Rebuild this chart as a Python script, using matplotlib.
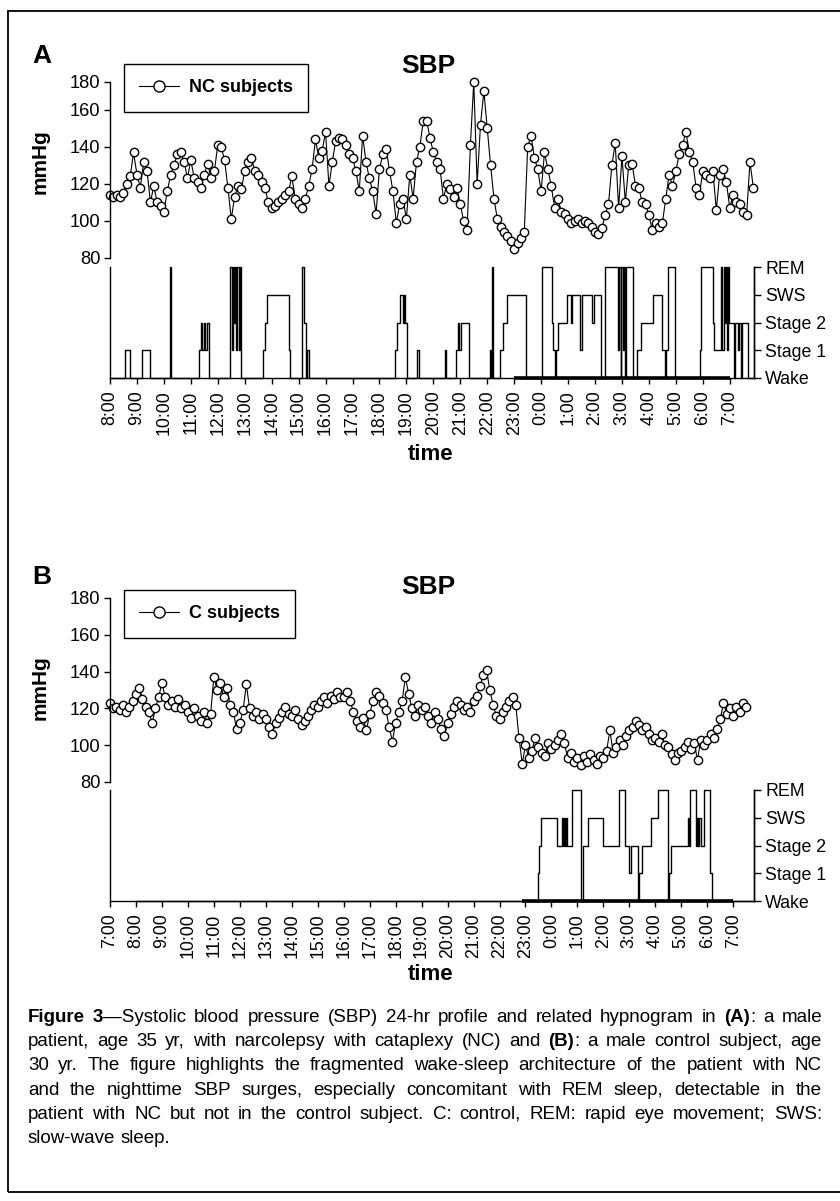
import numpy as np
import matplotlib
matplotlib.use('Agg')
import matplotlib.pyplot as plt
from matplotlib.patches import Rectangle

plt.rcParams['font.family'] = ['Liberation Sans', 'DejaVu Sans']

# SBP readings, one every 7.5 min (hours > 24 are the next day)
SAMPLE_H = 7.5 / 60

# ---- panel A : NC patient, recording from 8:00 ----
nc_start = 8.0
nc_sbp = [
    114, 113, 114, 113, 115, 120, 124, 137,   # 8:00
    125, 118, 132, 127, 110, 119, 110, 108,   # 9:00
    105, 116, 125, 130, 136, 137, 132, 123,   # 10:00
    133, 123, 121, 118, 125, 131, 123, 127,   # 11:00
    141, 140, 133, 118, 101, 113, 119, 117,   # 12:00
    127, 132, 134, 127, 125, 121, 118, 110,   # 13:00
    107, 108, 110, 112, 114, 116, 124, 112,   # 14:00
    109, 107, 112, 119, 128, 144, 134, 138,   # 15:00
    148, 119, 132, 143, 145, 144, 141, 136,   # 16:00
    134, 127, 116, 146, 132, 123, 116, 104,   # 17:00
    128, 136, 139, 127, 116, 99, 109, 112,    # 18:00
    101, 125, 112, 132, 140, 154, 154, 145,   # 19:00
    137, 132, 128, 112, 120, 117, 113, 118,   # 20:00
    109, 100, 95, 141, 175, 120, 152, 170,    # 21:00
    150, 130, 112, 101, 97, 94, 92, 89,       # 22:00
    85, 88, 91, 94, 140, 146, 134, 128,       # 23:00
    116, 137, 128, 119, 107, 112, 105, 104,   # 0:00
    101, 99, 100, 101, 99, 100, 99, 97,       # 1:00
    94, 93, 96, 103, 109, 130, 142, 107,      # 2:00
    135, 110, 130, 131, 119, 118, 110, 109,   # 3:00
    103, 95, 99, 97, 99, 112, 125, 119,       # 4:00
    127, 136, 141, 148, 137, 132, 118, 114,   # 5:00
    127, 125, 123, 127, 106, 125, 128, 121,   # 6:00
    107, 114, 110, 109, 105, 103, 132, 118,   # 7:00
]
# hypnogram A: change times and stage (0 Wake, 1 Stage 1, 2 Stage 2, 3 SWS, 4 REM)
nc_hyp_t = [8.0, 8.57, 8.74, 9.17, 9.48, 10.22, 10.24, 10.28,
            11.31, 11.36, 11.42, 11.47, 11.54, 11.6, 11.68,
            12.45, 12.47, 12.52, 12.55, 12.6, 12.63, 12.68, 12.72, 12.78, 12.82, 12.88,
            13.69, 13.75, 13.81, 14.64, 14.66, 14.68,
            15.13, 15.2, 15.26, 15.32, 15.4,
            18.58, 18.64, 18.76, 18.86, 18.92, 18.96, 19.03, 19.4, 19.45,
            20.42, 20.46, 20.84, 20.9, 20.97, 21.02, 21.34,
            22.1, 22.14, 22.18, 22.22, 22.47, 22.57, 22.74, 23.44,
            24.02, 24.4, 24.45, 24.52, 24.55, 24.64, 24.95, 25.1, 25.15, 25.45, 25.5,
            25.9, 25.95, 26.22,
            26.37, 26.86, 26.9, 26.95, 26.98, 27.03, 27.07, 27.12, 27.15, 27.42,
            27.54, 27.72, 28.16, 28.47, 28.6, 28.64, 28.72, 28.97,
            29.89, 29.95, 30.38, 30.43, 30.68, 30.72, 30.78, 30.82, 30.86, 30.9, 30.95,
            30.99, 31.17, 31.2, 31.3, 31.33, 31.42, 31.45, 31.69]
nc_hyp_s = [0, 1, 0, 1, 0, 1, 4, 0,
            1, 2, 1, 2, 1, 2, 0,
            2, 4, 1, 4, 2, 4, 1, 4, 1, 4, 0,
            1, 2, 3, 2, 1, 0,
            4, 2, 0, 1, 0,
            1, 2, 3, 2, 3, 2, 0, 1, 0,
            1, 0, 1, 2, 1, 2, 0,
            1, 0, 4, 0, 1, 2, 3, 0,
            4, 2, 1, 0, 1, 2, 3, 2, 3, 1, 3,
            2, 3, 0,
            4, 1, 4, 0, 4, 1, 4, 0, 4, 0,
            1, 2, 3, 1, 0, 1, 4, 0,
            1, 4, 2, 1, 4, 1, 4, 2, 4, 1, 4,
            2, 0, 2, 1, 2, 0, 2, 0]
nc_hyp_end = 31.85
nc_bed = (23.0, 31.0)
nc_hours = list(range(8, 32))

# ---- panel B : control subject, recording from 7:00 ----
c_start = 7.0
c_sbp = [
    123, 120, 121, 119, 122, 118, 121, 124,   # 7:00
    128, 131, 125, 121, 118, 112, 120, 126,   # 8:00
    134, 126, 122, 124, 121, 125, 120, 122,   # 9:00
    118, 115, 120, 116, 113, 118, 112, 117,   # 10:00
    137, 130, 134, 126, 131, 122, 118, 109,   # 11:00
    112, 119, 133, 120, 116, 118, 114, 117,   # 12:00
    114, 110, 106, 112, 115, 118, 121, 117,   # 13:00
    116, 119, 114, 111, 113, 116, 119, 122,   # 14:00
    121, 124, 126, 123, 127, 125, 129, 126,   # 15:00
    126, 129, 124, 118, 113, 110, 115, 108,   # 16:00
    117, 124, 129, 127, 123, 119, 110, 102,   # 17:00
    112, 118, 124, 137, 128, 120, 116, 122,   # 18:00
    119, 121, 116, 112, 118, 114, 109, 105,   # 19:00
    112, 117, 121, 124, 122, 119, 121, 118,   # 20:00
    124, 127, 132, 138, 141, 130, 122, 116,   # 21:00
    114, 118, 121, 124, 126, 122, 104, 90,    # 22:00
    100, 93, 97, 104, 99, 96, 94, 101,        # 23:00
    98, 100, 103, 106, 101, 93, 96, 91,       # 0:00
    93, 89, 94, 91, 95, 92, 90, 94,           # 1:00
    93, 97, 108, 96, 99, 103, 100, 105,       # 2:00
    108, 110, 113, 111, 108, 110, 106, 103,   # 3:00
    104, 102, 106, 100, 99, 95, 92, 96,       # 4:00
    97, 99, 102, 98, 101, 92, 103, 100,       # 5:00
    103, 106, 104, 109, 114, 123, 117, 120,   # 6:00
    116, 121, 118, 123, 121,                  # 7:00
]
c_hyp_t = [8.0, 23.5, 23.53, 23.6, 24.22, 24.4, 24.43, 24.47, 24.52, 24.56, 24.6,
           24.81, 25.12, 25.2, 25.39, 25.97, 26.61, 26.83, 27.0, 27.05, 27.32, 27.36,
           27.5, 27.83, 28.09, 28.48, 28.52, 28.6, 29.25, 29.3, 29.35, 29.57, 29.62,
           29.66, 29.7, 29.75, 29.89, 30.12, 30.2]
c_hyp_s = [0, 1, 2, 3, 2, 3, 2, 3, 2, 3, 2,
           4, 0, 2, 3, 2, 4, 2, 1, 2, 0, 1,
           2, 3, 4, 0, 1, 2, 3, 2, 4, 2, 3,
           2, 3, 2, 4, 1, 0]
c_hyp_end = 31.8
c_bed = (22.88, 31.0)
c_hours = list(range(7, 32))

stage_names = ['Wake', 'Stage 1', 'Stage 2', 'SWS', 'REM']
bp_ticks = [80, 100, 120, 140, 160, 180]

caption_lines = [
    "**Figure** **3**—Systolic blood pressure (SBP) 24-hr profile and related hypnogram in **(A)**: a male",
    "patient, age 35 yr, with narcolepsy with cataplexy (NC) and **(B)**: a male control subject, age",
    "30 yr. The figure highlights the fragmented wake-sleep architecture of the patient with NC",
    "and the nighttime SBP surges, especially concomitant with REM sleep, detectable in the",
    "patient with NC but not in the control subject. C: control, REM: rapid eye movement; SWS:",
    "slow-wave sleep.",
]

W, H = 840, 1201
fig = plt.figure(figsize=(W / 100, H / 100), dpi=100)


def box(x0, y0, x1, y1):
    return [x0 / W, 1 - y1 / H, (x1 - x0) / W, (y1 - y0) / H]


def fpos(x, y):
    return x / W, 1 - y / H


TICK_FS = 12.8


def draw_panel(letter, label, start, sbp, ytop, tick_pos, hyp_t, hyp_s, hyp_end, bed,
               hours, xmax, bp_y, hyp_y, title_y, leg_y, time_y, unit_y):
    x0, x1 = 110, 754
    xmin = hours[0]
    # blood pressure
    ax = fig.add_axes(box(x0, bp_y[0], x1, bp_y[1]))
    t = start + np.arange(len(sbp)) * SAMPLE_H
    line, = ax.plot(t, sbp, '-o', color='black', lw=0.8, ms=6.0, mfc='white',
                    mec='black', mew=1.0, clip_on=False)
    ax.set_xlim(xmin, xmax)
    ax.set_ylim(80, ytop)
    for s in ['top', 'right', 'bottom']:
        ax.spines[s].set_visible(False)
    ax.spines['left'].set_linewidth(1.0)
    ax.set_xticks([])
    ax.set_yticks(tick_pos)
    ax.set_yticklabels([str(v) for v in bp_ticks])
    ax.tick_params(axis='y', length=4, width=1.0, pad=3, labelsize=TICK_FS + 0.4)
    ax.set_facecolor('none')

    leg = ax.legend([line], [label], loc='upper left',
                    bbox_to_anchor=fpos(124, leg_y), bbox_transform=fig.transFigure,
                    borderaxespad=0, frameon=True, fancybox=False, edgecolor='black',
                    framealpha=1, prop=dict(weight='bold', size=13),
                    handlelength=2.2, handletextpad=0.55, borderpad=0.85)
    leg.get_frame().set_linewidth(1.0)
    leg.legend_handles[0].set_markersize(8)

    # hypnogram
    hx = fig.add_axes(box(x0, hyp_y[0], x1, hyp_y[1]))
    hx.step(hyp_t + [hyp_end], hyp_s + [hyp_s[-1]], where='post', color='black',
            lw=1.0, clip_on=False)
    hx.plot(bed, [0, 0], color='black', lw=2.6, solid_capstyle='butt', clip_on=False)
    hx.set_xlim(xmin, xmax)
    hx.set_ylim(0, 4)
    hx.spines['top'].set_visible(False)
    for s in ['left', 'right', 'bottom']:
        hx.spines[s].set_linewidth(1.0)
    hx.set_yticks([])
    hx.set_xticks(hours)
    hx.set_xticklabels([f"{h % 24}:00" for h in hours], rotation=90, fontsize=TICK_FS)
    hx.tick_params(axis='x', length=4, width=1.0, pad=5)
    rx = hx.twinx()
    rx.set_ylim(0, 4)
    for s in ['top', 'left', 'bottom']:
        rx.spines[s].set_visible(False)
    rx.spines['right'].set_linewidth(1.0)
    rx.set_yticks(range(5))
    rx.set_yticklabels(stage_names, fontsize=TICK_FS)
    rx.tick_params(axis='y', length=5, width=1.0, pad=3)

    fig.text(*fpos(40, unit_y), 'mmHg', rotation=90, ha='center',
             va='center', fontsize=15, fontweight='bold')
    fig.text(*fpos(428, title_y), 'SBP', ha='center', va='center', fontsize=19,
             fontweight='bold')
    fig.text(*fpos(42, title_y - 10), letter, ha='center', va='center', fontsize=19,
             fontweight='bold')
    fig.text(*fpos(431, time_y), 'time', ha='center', va='center', fontsize=16,
             fontweight='bold')


draw_panel('A', 'NC subjects', nc_start, nc_sbp, 175, [80, 100, 120, 140, 160, 175],
           nc_hyp_t, nc_hyp_s, nc_hyp_end, nc_bed, nc_hours, 31.9,
           (82, 258), (267, 378), 66, 64, 455, 162)
draw_panel('B', 'C subjects', c_start, c_sbp, 180, bp_ticks,
           c_hyp_t, c_hyp_s, c_hyp_end, c_bed, c_hours, 31.8,
           (598, 782), (790, 901), 587, 590, 975, 688)

# outer frame
fig.patches.append(Rectangle(fpos(8, 1192), (860 - 8) / W, (1192 - 11) / H,
                             transform=fig.transFigure, fill=False, lw=1.3,
                             edgecolor='black'))

# justified caption
renderer = fig.canvas.get_renderer()
left, right = 28, 822


def segments(word):
    parts = word.split('**')
    return [(p, 'bold' if i % 2 else 'normal') for i, p in enumerate(parts) if p]


def width_of(txt, weight, fs):
    tt = fig.text(0, 0, txt, fontsize=fs, fontweight=weight)
    w = tt.get_window_extent(renderer).width
    tt.remove()
    return w


def natural_width(ln, fs):
    sp = width_of('a a', 'normal', fs) - width_of('aa', 'normal', fs)
    words = [segments(w) for w in ln.split(' ')]
    return sum(width_of(s, wt, fs) for w in words for s, wt in w) + sp * (len(words) - 1)


cap_fs = 13.5
while max(natural_width(ln, cap_fs) for ln in caption_lines[:-1]) > right - left - 4:
    cap_fs -= 0.1

space_w = width_of('a a', 'normal', cap_fs) - width_of('aa', 'normal', cap_fs)
for i, ln in enumerate(caption_lines):
    words = [segments(w) for w in ln.split(' ')]
    widths = [sum(width_of(s, wt, cap_fs) for s, wt in w) for w in words]
    last = i == len(caption_lines) - 1
    gap = space_w if last else (right - left - sum(widths)) / (len(words) - 1)
    y = 1022 + i * 24.2
    x = left
    for w, ww in zip(words, widths):
        xx = x
        for s, wt in w:
            fig.text(*fpos(xx, y), s, fontsize=cap_fs, fontweight=wt, va='baseline')
            xx += width_of(s, wt, cap_fs)
        x += ww + gap

fig.savefig('out.png', dpi=100, facecolor='white')
